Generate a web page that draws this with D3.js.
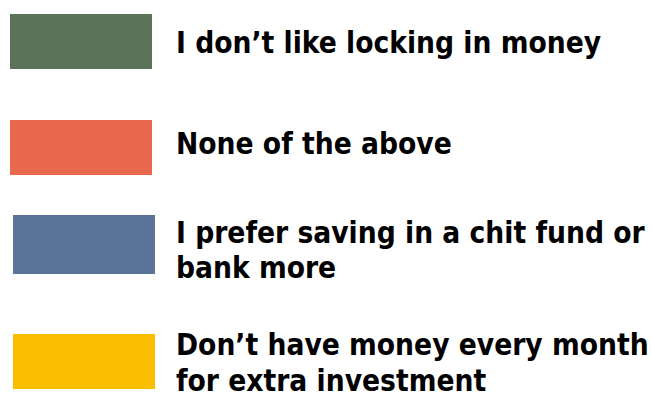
<!DOCTYPE html>
<html>
<head>
<meta charset="utf-8">
<script src="https://cdn.jsdelivr.net/npm/d3@7"></script>
<style>
  html, body { margin: 0; padding: 0; background: #ffffff; }
  svg { display: block; }
  .legend-label { font-family: "DejaVu Sans", sans-serif; font-stretch: condensed; font-weight: bold; font-size: 29.6px; fill: #000; }
</style>
</head>
<body>
<div id="chart"></div>
<script>
// Legend entries: category names (split into display lines) and their colours
const categories = [
  "I don’t like locking in money",
  "None of the above",
  "I prefer saving in a chit fund or bank more",
  "Don’t have money every month for extra investment"
];
const labelLines = [
  ["I don’t like locking in money"],
  ["None of the above"],
  ["I prefer saving in a chit fund or", "bank more"],
  ["Don’t have money every month", "for extra investment"]
];
const colors = ["#5b7359", "#e9694f", "#5a7499", "#fbbd00"];

const width = 651, height = 394;

const svg = d3.select("#chart").append("svg")
  .attr("width", width)
  .attr("height", height);

const color = d3.scaleOrdinal().domain(categories).range(colors);

// Layout of each legend row: swatch box and first text baseline
const rowLayout = [
  { x: 10, y: 14,  h: 55, base: 53 },
  { x: 10, y: 120, h: 55, base: 153.5 },
  { x: 13, y: 215, h: 59, base: 242.5 },
  { x: 13, y: 334, h: 55, base: 355 }
];
const swatchW = 142, textX = 176, lineGap = 35.5;

const rows = svg.selectAll("g.row")
  .data(categories)
  .join("g")
  .attr("class", "row");

rows.append("rect")
  .attr("x", (d, i) => rowLayout[i].x)
  .attr("y", (d, i) => rowLayout[i].y)
  .attr("width", swatchW)
  .attr("height", (d, i) => rowLayout[i].h)
  .attr("fill", d => color(d));

rows.append("text")
  .attr("class", "legend-label")
  .attr("x", textX)
  .attr("y", (d, i) => rowLayout[i].base)
  .selectAll("tspan")
  .data((d, i) => labelLines[i])
  .join("tspan")
  .attr("x", textX)
  .attr("dy", (d, j) => j === 0 ? 0 : lineGap)
  .text(d => d);
</script>
</body>
</html>
